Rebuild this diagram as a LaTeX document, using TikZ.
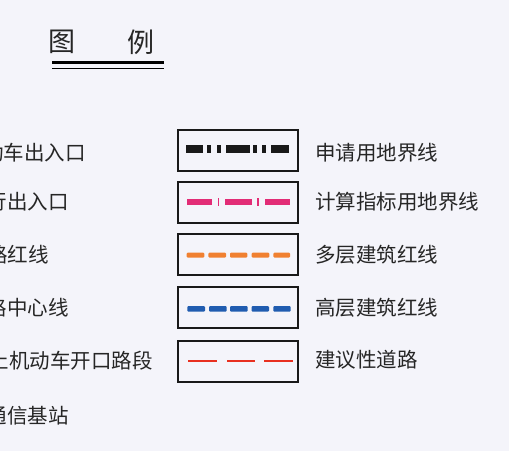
\documentclass[tikz,border=0pt]{standalone}
\usepackage{fontspec}
\newfontfamily\cjk{Noto Sans CJK SC}
\definecolor{bgc}{RGB}{244,244,250}
\definecolor{pinkc}{RGB}{226,44,118}
\definecolor{orangec}{RGB}{240,128,48}
\definecolor{bluec}{RGB}{32,92,176}
\definecolor{redc}{RGB}{232,48,32}
\begin{document}
\begin{tikzpicture}[x=1pt,y=-1pt,
  lbl/.style={inner sep=0pt,font=\cjk\fontsize{20.5}{20.5}\selectfont,text=black!85},
  legbox/.style={draw=black!90,line width=2pt,minimum width=120pt,minimum height=41pt,inner sep=0pt},
  ttl/.style={inner sep=0pt,font=\cjk\fontsize{27}{27}\selectfont,text=black!85}]
\fill[bgc] (0,0) rectangle (509,451);
\useasboundingbox (0,0) rectangle (509,451);
\clip (0,0) rectangle (509,451);
% title
\node[ttl] (t1) at (62,42) {图};
\node[ttl] (t2) at (141,42) {例};
\draw[line width=3.5pt] (52,62.5) -- (164,62.5);
\draw[line width=1.4pt] (52,68.5) -- (164,68.5);
% left column
\node[lbl,anchor=east] (l1) at (86,153) {机动车出入口};
\node[lbl,anchor=east] (l2) at (69,202) {人行出入口};
\node[lbl,anchor=east] (l3) at (49,255) {道路红线};
\node[lbl,anchor=east] (l4) at (69,308) {道路中心线};
\node[lbl,anchor=east] (l5) at (153,361) {禁止机动车开口路段};
\node[lbl,anchor=east] (l6) at (69,416) {移动通信基站};
% boxes
\node[legbox] (b1) at (238,150) {};
\node[legbox] (b2) at (238,202) {};
\node[legbox] (b3) at (238,254.5) {};
\node[legbox] (b4) at (238,307.5) {};
\node[legbox] (b5) at (238,361) {};
% box 1 pattern
\foreach \a/\b in {186/202.7,207.3/211.3,216.7/220.7,226/250,253.3/257.3,261.7/265.7,270.7/289.3}
  \fill[black!90] (\a,145) rectangle (\b,153);
% box 2 pattern
\foreach \a/\b in {186.7/211.7,225/251.7,265/290}
  \fill[pinkc] (\a,198.5) rectangle (\b,205);
\foreach \a/\b in {217.5/219,257.3/258.8}
  \fill[pinkc] (\a,197.5) rectangle (\b,206);
% box 3 pattern
\foreach \a/\b in {186.7/204.3,208.3/226,230/247.3,251.7/269.3,273.3/290}
  \fill[orangec,rounded corners=1pt] (\a,252.7) rectangle (\b,257.5);
% box 4 pattern
\foreach \a/\b in {187.3/205,209/226.7,230/247.7,251.7/269,273.3/290.7}
  \fill[bluec,rounded corners=1pt] (\a,306) rectangle (\b,311.7);
% box 5 pattern
\foreach \a/\b in {188.3/217.3,226.7/255,264.3/292.7}
  \fill[redc] (\a,359.5) rectangle (\b,362.3);
% right column
\node[lbl,anchor=west] (r1) at (315,153) {申请用地界线};
\node[lbl,anchor=west] (r2) at (315,202) {计算指标用地界线};
\node[lbl,anchor=west] (r3) at (315,255) {多层建筑红线};
\node[lbl,anchor=west] (r4) at (315,308) {高层建筑红线};
\node[lbl,anchor=west] (r5) at (315,360) {建议性道路};
\end{tikzpicture}
\end{document}
